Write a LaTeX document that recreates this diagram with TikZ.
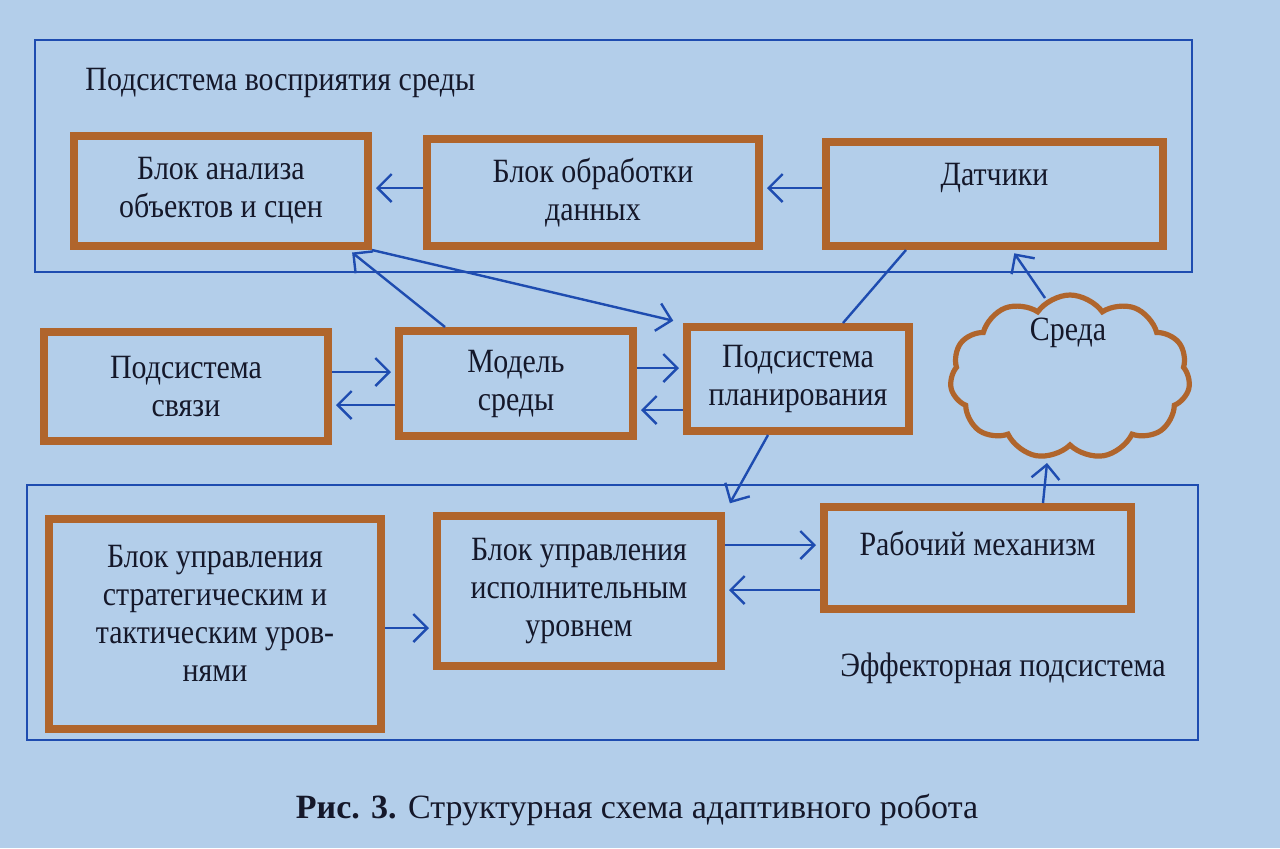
\documentclass[tikz,border=0pt]{standalone}
\usepackage{fontspec}
\setmainfont{Liberation Serif}[FakeStretch=0.88]
\newfontfamily\capfont{Liberation Serif}
\usetikzlibrary{shapes.symbols,arrows.meta}
\definecolor{bg}{HTML}{B3CEEA}
\definecolor{brd}{HTML}{B0652C}
\definecolor{ln}{HTML}{1E4CB0}
\definecolor{tx}{HTML}{15182A}
\newcommand{\fsz}{\fontsize{17}{19}\selectfont}
\begin{document}
\begin{tikzpicture}[x=0.5pt,y=-0.5pt,
  blk/.style={draw=brd,line width=4pt,inner sep=0pt,align=center,text=tx,font=\fsz},
  grp/.style={draw=ln,line width=1.3pt},
  txt/.style={text=tx,font=\fsz,inner sep=0pt},
  con/.style={draw=ln,line width=1.2pt,-{Straight Barb[length=7pt,width=14pt,line width=1.2pt]}},
  lin/.style={draw=ln,line width=1.2pt}]
\fill[bg] (0,0) rectangle (1280,848);
\useasboundingbox (0,0) rectangle (1280,848);
% groups
\draw[grp] (35,40) rectangle (1192,272);
\draw[grp] (27,485) rectangle (1198,740);
\node[txt,anchor=west] (lblA) at (85,83) {Подсистема восприятия среды};
\node[txt,anchor=west] (lblB) at (840,668) {Эффекторная подсистема};
% top row
\node[blk,minimum width=147pt,minimum height=55pt] (B1) at (221,191) {Блок анализа\\объектов и сцен};
\node[blk,minimum width=166pt,minimum height=53.5pt] (B2) at (593,192.5) {Блок обработки\\данных};
\node[blk,minimum width=168.5pt,minimum height=52pt] (B3) at (994.5,194) {};
\node[txt] (B3t) at (994.5,178) {Датчики};
% middle row
\node[blk,minimum width=142pt,minimum height=54.5pt] (M1) at (186,386.5) {Подсистема\\связи};
\node[blk,minimum width=117pt,minimum height=52.5pt] (M2) at (516,383.5) {Модель\\среды};
\node[blk,minimum width=111pt,minimum height=52pt] (M3) at (798,379) {Подсистема\\планирования};
\node[cloud,cloud puffs=11,cloud puff arc=110,aspect=1.45,draw=brd,line width=2.6pt,
      minimum width=120pt,minimum height=82pt,inner sep=0pt] (env) at (1070,377) {};
\node[txt] (envt) at (1068,333) {Среда};
% bottom row
\node[blk,minimum width=166pt,minimum height=105pt] (L1) at (215,624) {Блок управления\\стратегическим и\\тактическим уров-\\нями\\[-8pt]~};
\node[blk,minimum width=142pt,minimum height=75pt] (L2) at (579,591) {Блок управления\\исполнительным\\уровнем};
\node[blk,minimum width=153.5pt,minimum height=51pt] (L3) at (977.5,558) {};
\node[txt] (L3t) at (977.5,543) {Рабочий механизм};
% caption
\node[txt,font=\capfont\fontsize{17}{20}\selectfont] (cap) at (637,810) {\textbf{Рис. 3.} Структурная схема адаптивного робота};
% horizontal connectors
\draw[con,shorten >=2pt] (B2.west |- 0,188) -- (B1.east |- 0,188);
\draw[con,shorten >=2pt] (B3.west |- 0,188) -- (B2.east |- 0,188);
\draw[con,shorten >=2pt] (M1.east |- 0,372) -- (M2.west |- 0,372);
\draw[con,shorten >=2pt] (M2.west |- 0,405) -- (M1.east |- 0,405);
\draw[con,shorten >=2pt] (M2.east |- 0,368) -- (M3.west |- 0,368);
\draw[con,shorten >=2pt] (M3.west |- 0,410) -- (M2.east |- 0,410);
\draw[con,shorten >=2pt] (L1.east |- 0,628) -- (L2.west |- 0,628);
\draw[con,shorten >=2pt] (L2.east |- 0,545) -- (L3.west |- 0,545);
\draw[con,shorten >=2pt] (L3.west |- 0,590) -- (L2.east |- 0,590);
% diagonal connectors
\draw[con,shorten >=2pt] (M2.north -| 445,0) -- (B1.south -| 349,0);
\draw[con,shorten >=5pt] (B1.south east) -- (M3.north west);
\draw[lin] (M3.north -| 843,0) -- (B3.south -| 906,0);
\draw[con,shorten >=2pt] (1045,298) -- (B3.south -| 1012,0);
\draw[con,shorten >=5pt] (M3.south -| 768,0) -- (L2.north east);
\draw[con] (L3.north -| 1043,0) -- (1047,463);
\end{tikzpicture}
\end{document}
